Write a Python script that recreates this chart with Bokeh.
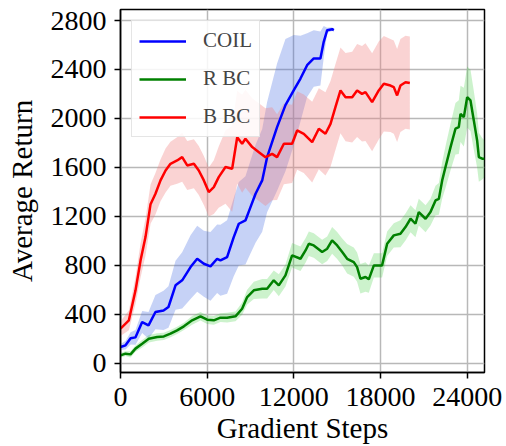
from bokeh.plotting import figure
from bokeh.models import Legend, LegendItem, FixedTicker, Range1d
from bokeh.embed import file_html
from bokeh.resources import INLINE

# COIL
coil_steps = [0, 350, 700, 1040, 1500, 1940, 2420, 2980, 3320, 3810,
              4270, 4850, 5310, 5770, 6230, 6690, 6920, 7380, 7840, 8190,
              8650, 9000, 9350, 9810, 10150, 10840, 11420, 12000, 12460, 12920,
              13380, 13840, 14070, 14310, 14650, 14770]
coil_mean = [133, 147, 204, 212, 337, 310, 419, 432, 460, 637,
             678, 786, 854, 813, 792, 854, 841, 868, 1031, 1140,
             1167, 1276, 1385, 1494, 1684, 1929, 2109, 2231, 2326, 2435,
             2490, 2490, 2626, 2721, 2729, 2721]
coil_spread = [25, 35, 50, 60, 90, 110, 140, 160, 170, 200,
               230, 260, 270, 270, 280, 280, 290, 300, 320, 340,
               360, 380, 400, 420, 450, 520, 540, 450, 350, 260,
               230, 220, 130, 20, 15, 10]

# R BC
rbc_steps = [0, 346, 692, 1038, 1500, 1960, 2540, 3000, 3460, 3920,
             4390, 4960, 5540, 6000, 6460, 6920, 7380, 7960, 8420, 8770,
             9230, 9810, 10150, 10610, 10960, 11420, 11880, 12460, 12810, 13040,
             13380, 13960, 14310, 14650, 15000, 15350, 15690, 16150, 16380, 16610,
             16960, 17190, 17540, 18110, 18460, 18920, 19380, 19730, 20080, 20420,
             20650, 21120, 21460, 21810, 22040, 22270, 22500, 22850, 23190, 23420,
             23540, 23770, 24000, 24230, 24460, 24690, 24810, 25040, 25200]
rbc_mean = [65, 79, 73, 120, 160, 201, 215, 220, 242, 269,
            302, 351, 384, 356, 351, 373, 373, 384, 446, 541,
            596, 609, 609, 678, 637, 718, 882, 854, 922, 977,
            963, 909, 936, 1004, 963, 909, 854, 827, 786, 691,
            705, 686, 800, 800, 977, 1045, 1058, 1113, 1181, 1140,
            1235, 1181, 1235, 1330, 1343, 1494, 1603, 1766, 1916, 1929,
            2038, 2011, 2174, 2147, 1984, 1820, 1684, 1671, 1671]
rbc_spread = [20, 20, 25, 25, 30, 30, 30, 30, 30, 30,
              30, 35, 35, 35, 35, 35, 40, 40, 50, 60,
              70, 80, 80, 80, 90, 90, 100, 100, 100, 100,
              100, 100, 100, 110, 110, 110, 120, 120, 120, 120,
              120, 110, 100, 100, 100, 100, 110, 110, 110, 110,
              110, 110, 110, 120, 130, 150, 170, 190, 210, 220,
              230, 240, 250, 250, 240, 220, 200, 170, 150]

# B BC
bbc_steps = [0, 580, 1040, 1390, 1730, 2080, 2420, 2770, 3120, 3460,
             3920, 4270, 4620, 5080, 5420, 5770, 6110, 6460, 6800, 7270,
             7730, 8080, 8420, 8650, 9120, 9580, 10040, 10500, 10840, 11310,
             11880, 12230, 12690, 13270, 13730, 14190, 14540, 14880, 15230, 15580,
             16040, 16380, 16720, 16960, 17420, 17880, 18230, 18690, 18920, 19150,
             19380, 19730, 20030]
bbc_mean = [283, 351, 596, 841, 1031, 1300, 1385, 1494, 1575, 1630,
            1657, 1684, 1616, 1630, 1575, 1494, 1399, 1439, 1521, 1603,
            1589, 1847, 1793, 1834, 1766, 1725, 1684, 1711, 1684, 1793,
            1793, 1902, 1875, 1807, 1916, 1875, 1956, 2092, 2229, 2174,
            2174, 2229, 2201, 2215, 2133, 2229, 2283, 2269, 2256, 2188,
            2269, 2296, 2289]
bbc_spread = [60, 80, 110, 140, 150, 160, 170, 170, 180, 180,
              190, 200, 200, 200, 200, 200, 200, 220, 250, 300,
              350, 380, 400, 400, 400, 400, 400, 380, 350, 330,
              320, 320, 320, 330, 330, 340, 350, 350, 350, 360,
              370, 380, 390, 400, 400, 400, 390, 380, 380, 380,
              380, 380, 380]

x_ticks = [0, 6000, 12000, 18000, 24000]
y_ticks = [0, 400, 800, 1200, 1600, 2000, 2400, 2800]

SERIF = "Liberation Serif"

p = figure(width=506, height=446, output_backend="svg", toolbar_location=None,
           x_range=Range1d(0, 25200), y_range=Range1d(-75, 2890),
           min_border_left=120, min_border_right=22, min_border_top=9,
           min_border_bottom=74)

series = [
    ("COIL", coil_steps, coil_mean, coil_spread, "#0000ff", "#4169e1", 0.30),
    ("R BC", rbc_steps, rbc_mean, rbc_spread, "#008000", "#32cd32", 0.25),
    ("B BC", bbc_steps, bbc_mean, bbc_spread, "#ff0000", "#f08080", 0.35),
]

# shaded spread bands first, mean curves on top
for name, xs, m, s, line_c, fill_c, a in series:
    lo = [v - d for v, d in zip(m, s)]
    hi = [v + d for v, d in zip(m, s)]
    p.varea(x=xs, y1=lo, y2=hi, fill_color=fill_c, fill_alpha=a)

items = []
for name, xs, m, s, line_c, fill_c, a in series:
    r = p.line(xs, m, line_color=line_c, line_width=2.5)
    items.append(LegendItem(label=name, renderers=[r]))

legend = Legend(items=items, location="top_left",
                label_text_font=SERIF, label_text_font_size="21px",
                label_standoff=17, glyph_width=47, glyph_height=20,
                label_height=20, spacing=13, padding=7, margin=11,
                border_line_color="#cccccc", border_line_width=1.2,
                background_fill_alpha=0.85)
p.add_layout(legend, "center")

p.xaxis.ticker = FixedTicker(ticks=x_ticks)
p.yaxis.ticker = FixedTicker(ticks=y_ticks)
p.xaxis.axis_label = "Gradient Steps"
p.yaxis.axis_label = "Average Return"

for ax in (p.xaxis, p.yaxis):
    ax.axis_label_text_font = SERIF
    ax.axis_label_text_font_size = "29px"
    ax.axis_label_text_font_style = "normal"
    ax.major_label_text_font = SERIF
    ax.major_label_text_font_size = "28px"
    ax.major_label_text_color = "black"
    ax.axis_label_text_color = "black"
    ax.axis_line_color = "black"
    ax.axis_line_width = 1.5
    ax.major_tick_line_color = "black"
    ax.major_tick_line_width = 1.5
    ax.major_tick_out = 6
    ax.major_tick_in = 0
    ax.minor_tick_line_color = None

p.xaxis.major_label_standoff = 9
p.xaxis.axis_label_standoff = 3
p.yaxis.major_label_standoff = 8
p.yaxis.axis_label_standoff = 10

p.grid.grid_line_color = "#b8b8b8"
p.grid.grid_line_width = 1.5
p.outline_line_color = "black"
p.outline_line_width = 1.5
p.outline_line_alpha = 1.0

open("out.html", "w").write(file_html(p, INLINE))
